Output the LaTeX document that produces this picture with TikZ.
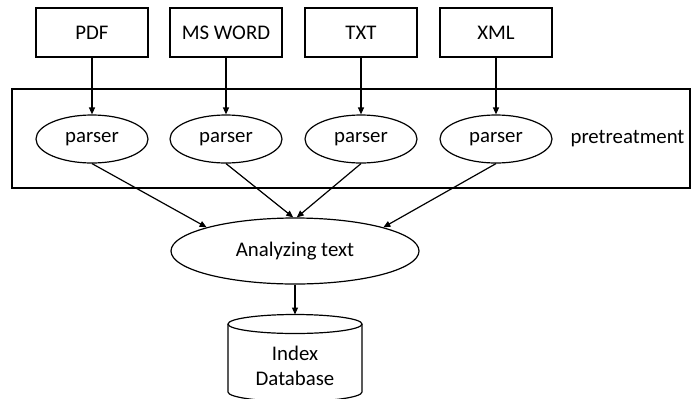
\documentclass[tikz,border=0pt]{standalone}
\usepackage{fontspec}
\setmainfont{Carlito}
\usetikzlibrary{arrows.meta,shapes.geometric}
\begin{document}
\begin{tikzpicture}[x=0.5pt,y=-0.5pt,
  line width=0.6pt,
  font=\fontsize{10.4pt}{12.5pt}\selectfont,
  src/.style={draw, minimum width=56pt, minimum height=24.5pt, inner sep=0pt},
  parse/.style={draw, ellipse, minimum width=56pt, minimum height=24pt, inner sep=0pt},
  flow/.style={-{Triangle[length=3.5pt,width=3pt]}}]
\useasboundingbox (0,0) rectangle (692,398);
\clip (0,0) rectangle (692,398);

% pretreatment stage frame
\node[draw, minimum width=339pt, minimum height=49.5pt, inner sep=0pt] (stage) at (351,138.5) {};
\node (pre) at (627.5,139) {pretreatment};

% input formats
\node[src] (pdf) at (92,32.5) {PDF};
\node[src] (doc) at (226,32.5) {MS WORD};
\node[src] (txt) at (361,32.5) {TXT};
\node[src] (xml) at (496,32.5) {XML};

% parsers
\node[parse] (p1) at (92,139) {parser};
\node[parse] (p2) at (226,139) {parser};
\node[parse] (p3) at (361,139) {parser};
\node[parse] (p4) at (496,139) {parser};

% analysis
\node[draw, ellipse, minimum width=124pt, minimum height=33pt, inner sep=0pt] (an) at (295,251) {Analyzing text};

% index database cylinder
\draw (295,324) ellipse [x radius=33.5pt, y radius=4.75pt];
\draw (228,324) -- (228,392) arc[start angle=180, end angle=360, x radius=33.5pt, y radius=4.75pt] -- (362,324);
\coordinate (dbtop) at (295,314.5);
\node[align=center, inner sep=0pt] (db) at (295,366) {Index\\Database};

% connectors
\draw[flow] (pdf) -- (p1);
\draw[flow] (doc) -- (p2);
\draw[flow] (txt) -- (p3);
\draw[flow] (xml) -- (p4);
\draw[flow] (p1.south) -- (an.165);
\draw[flow] (p2.south) -- (an.93);
\draw[flow] (p3.south) -- (an.87);
\draw[flow] (p4.south) -- (an.15);
\draw[flow] (an.south) -- (dbtop);
\end{tikzpicture}
\end{document}
